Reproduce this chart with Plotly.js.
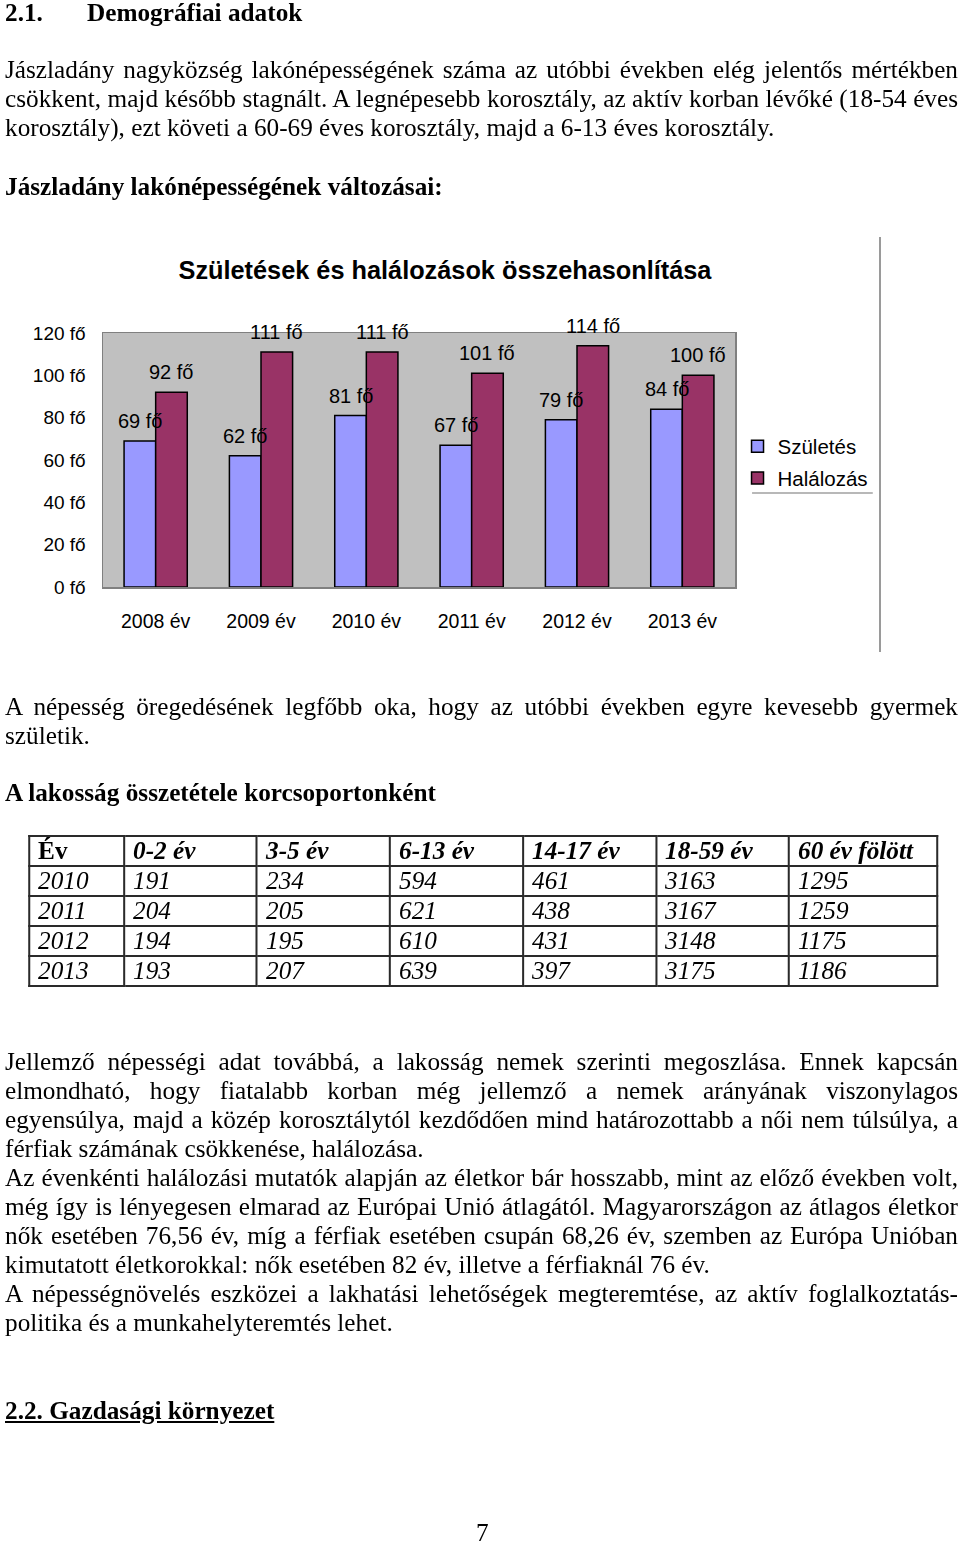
<!DOCTYPE html>
<html>
<head>
<meta charset="utf-8">
<script src="https://cdn.plot.ly/plotly-3.0.1.min.js"></script>
<style>
  html, body { margin:0; padding:0; background:#fff; }
  body { width:960px; height:1543px; position:relative; overflow:hidden; }
  #page { position:absolute; left:5px; top:0; transform-origin:0 0;
          font-family:"Liberation Serif","Times New Roman",serif; font-size:25px; color:#000; }
  .blk { position:absolute; left:0; line-height:29px; }
  .ln { white-space:nowrap; }
  .j { text-align:justify; text-align-last:justify; }
  .b { font-weight:bold; }
  #chart { position:absolute; left:0; top:237px; width:880px; height:415px; }
  #vline { position:absolute; left:879px; top:237px; width:1.5px; height:415px; background:#9a9a9a; }
  table { border-collapse:collapse; table-layout:fixed; }
  td { border:2px solid #2a2a2a; font-style:italic; padding:0 0 0 8px; height:28px; line-height:28px; white-space:nowrap; overflow:hidden; }
  tr.h td { font-weight:bold; }
</style>
</head>
<body>
<div id="page"></div>
<div id="chart"></div>
<div id="vline"></div>
<script>
// ---------- chart data ----------
const years  = ['2008 év','2009 év','2010 év','2011 év','2012 év','2013 év'];
const births = [69, 62, 81, 67, 79, 84];
const deaths = [92, 111, 111, 101, 114, 100];
const seriesNames = ['Születés', 'Halálozás'];
const chartTitle = 'Születések és halálozások összehasonlítása';
const unit = ' fő';

// ---------- table data ----------
const tableHeader = ['Év','0-2 év','3-5 év','6-13 év','14-17 év','18-59 év','60 év fölött'];
const tableYears  = ['2010','2011','2012','2013'];
const age0_2   = [191, 204, 194, 193];
const age3_5   = [234, 205, 195, 207];
const age6_13  = [594, 621, 610, 639];
const age14_17 = [461, 438, 431, 397];
const age18_59 = [3163, 3167, 3148, 3175];
const age60p   = [1295, 1259, 1175, 1186];

// ---------- page text ----------
const S = 1.01;               // horizontal scale of the page text
const pageW = 953;            // visible text width in px

const page = document.getElementById('page');
page.style.transform = 'scaleX(' + S + ')';
page.style.width = (pageW / S) + 'px';
const X = x => ((x - 5) / S) + 'px';

function block(top, lines, cls) {
  const d = document.createElement('div');
  d.className = 'blk ' + (cls || '');
  d.style.top = top + 'px';
  d.style.width = (pageW / S) + 'px';
  lines.forEach(l => {
    const ln = document.createElement('div');
    ln.className = 'ln' + (l[1] ? ' j' : '');
    ln.textContent = l[0];
    d.appendChild(ln);
  });
  page.appendChild(d);
  return d;
}

// heading 2.1
(function(){
  const a = document.createElement('div');
  a.className = 'blk b'; a.style.top = '-2.5px'; a.textContent = '2.1.';
  page.appendChild(a);
  const b = document.createElement('div');
  b.className = 'blk b'; b.style.top = '-2.5px'; b.style.left = X(87); b.textContent = 'Demográfiai adatok';
  page.appendChild(b);
})();

block(54.5, [
  ['Jászladány nagyközség lakónépességének száma az utóbbi években elég jelentős mértékben', true],
  ['csökkent, majd később stagnált. A legnépesebb korosztály, az aktív korban lévőké (18-54 éves', true],
  ['korosztály), ezt követi a 60-69 éves korosztály, majd a 6-13 éves korosztály.', false]
]);
block(171.5, [['Jászladány lakónépességének változásai:', false]], 'b');

block(691.5, [
  ['A népesség öregedésének legfőbb oka, hogy az utóbbi években egyre kevesebb gyermek', true],
  ['születik.', false]
]);
block(777.5, [['A lakosság összetétele korcsoportonként', false]], 'b');

// table
(function(){
  const colEdges = [28, 123, 256, 389, 522, 655, 788, 936];
  const t = document.createElement('table');
  t.style.position = 'absolute';
  t.style.left = X(colEdges[0]);
  t.style.top = '835px';
  const cg = document.createElement('colgroup');
  for (let i = 0; i < colEdges.length - 1; i++) {
    const c = document.createElement('col');
    c.style.width = ((colEdges[i+1] - colEdges[i]) / S) + 'px';
    cg.appendChild(c);
  }
  t.appendChild(cg);
  const hr = document.createElement('tr'); hr.className = 'h';
  tableHeader.forEach((h, i) => {
    const td = document.createElement('td'); td.textContent = h;
    if (i === 0) td.style.fontStyle = 'normal';
    hr.appendChild(td);
  });
  t.appendChild(hr);
  const cols = [age0_2, age3_5, age6_13, age14_17, age18_59, age60p];
  tableYears.forEach((y, r) => {
    const tr = document.createElement('tr');
    const td0 = document.createElement('td'); td0.textContent = y; tr.appendChild(td0);
    cols.forEach(c => { const td = document.createElement('td'); td.textContent = c[r]; tr.appendChild(td); });
    t.appendChild(tr);
  });
  page.appendChild(t);
})();

block(1046.5, [
  ['Jellemző népességi adat továbbá, a lakosság nemek szerinti megoszlása. Ennek kapcsán', true],
  ['elmondható, hogy fiatalabb korban még jellemző a nemek arányának viszonylagos', true],
  ['egyensúlya, majd a közép korosztálytól kezdődően mind határozottabb a női nem túlsúlya, a', true],
  ['férfiak számának csökkenése, halálozása.', false],
  ['Az évenkénti halálozási mutatók alapján az életkor bár hosszabb, mint az előző években volt,', true],
  ['még így is lényegesen elmarad az Európai Unió átlagától. Magyarországon az átlagos életkor', true],
  ['nők esetében 76,56 év, míg a férfiak esetében csupán 68,26 év, szemben az Európa Unióban', true],
  ['kimutatott életkorokkal: nők esetében 82 év, illetve a férfiaknál 76 év.', false],
  ['A népességnövelés eszközei a lakhatási lehetőségek megteremtése, az aktív foglalkoztatás-', true],
  ['politika és a munkahelyteremtés lehet.', false]
]);

(function(){
  const h = document.createElement('div');
  h.className = 'blk b'; h.style.top = '1395.5px'; h.style.textDecoration = 'underline';
  h.textContent = '2.2. Gazdasági környezet';
  page.appendChild(h);
  const n = document.createElement('div');
  n.className = 'blk'; n.style.top = '1517.5px'; n.style.left = X(476); n.textContent = '7';
  page.appendChild(n);
})();

// ---------- chart ----------
const font = 'Liberation Sans, Arial, sans-serif';
const traces = [
  { type:'bar', name:seriesNames[0], x:years, y:births, legendgroup:'g1',
    marker:{ color:'#9999FF', line:{ color:'#000', width:1.5 } }, hoverinfo:'none' },
  { type:'bar', name:seriesNames[1], x:years, y:deaths, legendgroup:'g2',
    marker:{ color:'#993366', line:{ color:'#000', width:1.5 } }, hoverinfo:'none' }
];

const annotations = [];
years.forEach((y, i) => {
  annotations.push({ x:i - 0.15, y:births[i], xref:'x', yref:'y', text:births[i] + unit,
    showarrow:false, yshift:20, yanchor:'middle', font:{ family:font, size:20, color:'#000' } });
  annotations.push({ x:i + 0.15, y:deaths[i], xref:'x', yref:'y', text:deaths[i] + unit,
    showarrow:false, yshift:20, yanchor:'middle', font:{ family:font, size:20, color:'#000' } });
});

const layout = {
  width:880, height:415,
  margin:{ l:103, r:145, t:96, b:65, autoexpand:false },
  paper_bgcolor:'rgba(0,0,0,0)',
  plot_bgcolor:'#C0C0C0',
  title:{ text:'<b>' + chartTitle + '</b>', font:{ family:font, size:25.3, color:'#000' },
          x:445/880, xref:'container', xanchor:'center', y:1 - 33/415, yref:'container', yanchor:'middle' },
  barmode:'group', bargap:0.4, bargroupgap:0,
  xaxis:{ type:'category', showline:true, mirror:true, linecolor:'#808080', linewidth:1.5,
          ticks:'outside', ticklen:16, tickcolor:'rgba(0,0,0,0)', showgrid:false,
          tickfont:{ family:font, size:19.5, color:'#000' }, fixedrange:true },
  yaxis:{ range:[0,120], dtick:20, tick0:0, ticksuffix:unit, showline:true, mirror:true,
          linecolor:'#808080', linewidth:1.5, showgrid:false, zeroline:false,
          ticks:'outside', ticklen:12, tickcolor:'rgba(0,0,0,0)',
          tickfont:{ family:font, size:19, color:'#000' }, fixedrange:true },
  showlegend:true,
  legend:{ x:1.004, y:0.632, xanchor:'left', yanchor:'top', bgcolor:'rgba(0,0,0,0)',
           font:{ family:font, size:20.5, color:'#000' }, tracegroupgap:2 },
  annotations:annotations,
  shapes:[ { type:'line', xref:'paper', yref:'paper', x0:1.027, x1:1.218, y0:0.37, y1:0.37,
             line:{ color:'#a0a0a0', width:1.5 } } ]
};

Plotly.newPlot('chart', traces, layout, { displayModeBar:false, staticPlot:true });
</script>
</body>
</html>
